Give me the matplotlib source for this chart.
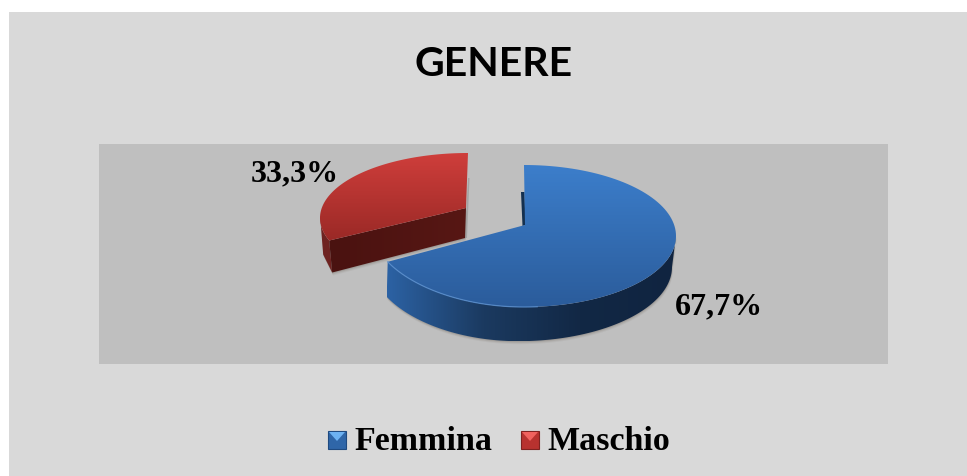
import numpy as np
import matplotlib
matplotlib.use("Agg")
import matplotlib.pyplot as plt
from matplotlib.patches import Polygon, Rectangle
from matplotlib.colors import LinearSegmentedColormap

# data
categories = ["Femmina", "Maschio"]
shares = [67.7, 33.3]
share_labels = ["67,7%", "33,3%"]
title = "GENERE"

W, H = 967, 476
fig = plt.figure(figsize=(W / 100, H / 100), dpi=100, facecolor="white")
ax = fig.add_axes([0, 0, 1, 1])
ax.set_xlim(0, W)
ax.set_ylim(H, 0)
ax.axis("off")

# background panels
ax.add_patch(Rectangle((9, 12), W - 9, H - 12, fc="#d9d9d9", ec="none", zorder=0))
ax.add_patch(Rectangle((99, 144), 789, 220, fc="#bfbfbf", ec="none", zorder=1))


def rim(cx, cy, rx, ry, a0, a1, n=120, lift=0):
    # angles in degrees, clockwise from 12 o'clock
    a = np.radians(np.linspace(a0, a1, n))
    s = np.sin(a)
    # lift = perspective, far left side of the disc sits a bit higher
    return np.column_stack([cx + rx * s, cy - ry * np.cos(a) - lift * np.clip(-s, 0, 1) ** 2])


def gradient_fill(pts, colors, zorder, vertical=True):
    # polygon filled with a linear gradient through imshow + clip path
    cmap = LinearSegmentedColormap.from_list("g", colors)
    x0, y0 = pts.min(axis=0)
    x1, y1 = pts.max(axis=0)
    g = np.linspace(0, 1, 256)
    g = g[:, None] if vertical else g[None, :]
    im = ax.imshow(g, cmap=cmap, extent=[x0, x1, y1, y0], aspect="auto",
                   zorder=zorder, interpolation="bilinear")
    im.set_clip_path(Polygon(pts, closed=True, transform=ax.transData))


def soft_shadow(pts, zorder):
    for off, alpha in [(3, 0.05), (2, 0.08), (1, 0.12)]:
        ax.add_patch(Polygon(pts + [off * 0.3, off], fc="#3a3020", ec="none", alpha=alpha, zorder=zorder))


split = 360 * shares[0] / 100

# blue slice (Femmina)
b_cx, b_cy, b_rx, b_ry, b_apex, b_depth = 524, 236, 152, 71, (525, 225), 35
b_lift = 7
b_rim = rim(b_cx, b_cy, b_rx, b_ry, 0, split, lift=b_lift)
b_top = np.vstack([b_apex, b_rim])
b_side_top = rim(b_cx, b_cy, b_rx, b_ry, 90, split, lift=b_lift)
b_side_low = b_side_top + [-1, b_depth - 4]
b_side_low[:, 1] += 4 * np.sin(np.radians(np.linspace(0, 90, len(b_side_top))))
b_side_low[:, 0] -= 3 * np.cos(np.radians(np.linspace(0, 90, len(b_side_top))))
b_side = np.vstack([b_side_low, b_side_top[::-1]])
soft_shadow(b_side, 2)
# wall gets lighter toward the cut on the left
gradient_fill(b_side, ["#2c62a4", "#1b3a60", "#122845", "#102440"][::1], 3, vertical=False)
# dark sliver of the inner cut
ax.add_patch(Polygon([(521, 192), (524.5, 192), (525.5, 225), (522.5, 226)], fc="#14304f", ec="none", zorder=3))
gradient_fill(b_top, ["#3c7ecb", "#2b5c9b"], 4)
b_edge = rim(b_cx, b_cy, b_rx, b_ry, 175, split, lift=b_lift)
ax.plot(b_edge[:, 0], b_edge[:, 1], color="#5a90d0", lw=0.9, alpha=0.8, zorder=5)

# red slice (Maschio), pulled out of the pie
r_cx, r_cy, r_rx, r_ry, r_apex, r_depth = 468, 218, 148, 65, (466, 208), 32
r_shift = 6  # perspective moves the cut a little on the exploded slice
r_rim = rim(r_cx, r_cy, r_rx, r_ry, split + r_shift, 360)
r_top = np.vstack([r_apex, r_rim])
corner = r_rim[0]
r_low = corner + [3, r_depth]
r_cut = np.array([r_apex, corner, r_low, np.array(r_apex) + [-1, r_depth - 2]])
r_wall_top = rim(r_cx, r_cy, r_rx, r_ry, split + r_shift, 272, 30)
r_wall = np.vstack([r_wall_top, [corner[0] - 6, corner[1] + 14], r_low])
soft_shadow(r_cut, 2)
soft_shadow(r_wall, 2)
ax.add_patch(Polygon(r_wall, fc="#6e2321", ec="none", zorder=3))
gradient_fill(r_cut, ["#4a1210", "#571714"], 3, vertical=False)
gradient_fill(r_top, ["#cf3e3b", "#9a2926"], 4)
# small shaded edge behind the top of the red slice
ax.add_patch(Polygon([(468, 178), (469.5, 178), (467, 238), (465, 238)], fc="#8a8a8a", ec="none", alpha=0.5, zorder=2))

# percentage labels
ax.text(295, 174, share_labels[1], fontfamily="Liberation Serif", fontweight="bold",
        fontsize=23, ha="center", va="center", color="black", zorder=6)
ax.text(718.5, 307, share_labels[0], fontfamily="Liberation Serif", fontweight="bold",
        fontsize=23, ha="center", va="center", color="black", zorder=6)

ax.text(493.5, 65, title, fontfamily="Lato", fontweight="bold", fontsize=29.5,
        ha="center", va="center", color="black")

# legend with little bevelled squares
legend_x = [328, 521]
legend_text_x = [354, 547]
swatch = [("#2f66a8", "#6db2f2", "#1f4a80"), ("#b8322f", "#f0625e", "#7f2220")]
for x, tx, name, (base, light, dark) in zip(legend_x, legend_text_x, categories, swatch):
    ax.add_patch(Rectangle((x, 431), 18, 18, fc=base, ec=dark, lw=0.8, zorder=3))
    ax.add_patch(Polygon([(x + 1, 432), (x + 17, 432), (x + 9, 441)], fc=light, ec="none", zorder=4))
    ax.text(tx, 441, name, fontfamily="Liberation Serif", fontweight="bold", fontsize=24.5,
            ha="left", va="center", color="black")

fig.savefig("out.png", dpi=100, facecolor="white")
